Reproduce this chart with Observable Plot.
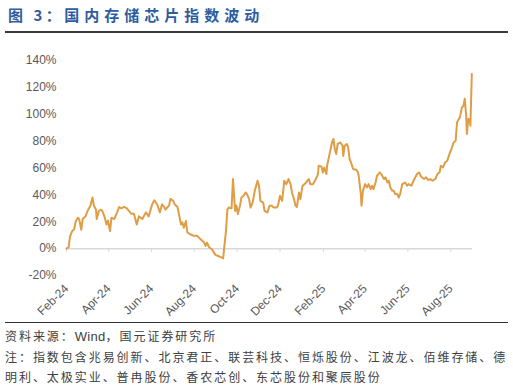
<!DOCTYPE html>
<html><head><meta charset="utf-8">
<script src="https://cdn.jsdelivr.net/npm/d3@7"></script>
<script src="https://cdn.jsdelivr.net/npm/@observablehq/plot@0.6"></script>
<style>
body{margin:0;background:#fff;width:513px;height:387px;overflow:hidden;font-family:"Liberation Sans",Arial,"Noto Sans CJK SC",sans-serif;}
#title{margin-left:5px;width:503px;height:31px;line-height:30px;border-bottom:2px solid #3a3a3a;color:#2E5C9F;font-weight:bold;font-family:"Noto Sans CJK SC",sans-serif;font-size:15px;white-space:pre;}
#chart svg{display:block}
#note{margin-left:5px;width:503px;border-top:1px solid #333;padding-top:3px;font-family:"Noto Sans CJK SC",sans-serif;font-size:12px;line-height:20px;color:#404040;letter-spacing:1.95px;white-space:nowrap;}
#note .en{font-family:"Liberation Sans",Arial,sans-serif;letter-spacing:0.3px;font-size:13px;}
</style></head><body>
<div id="title"><span style="padding-left:3px;letter-spacing:3.5px">图 3：</span><span style="letter-spacing:5px">国内存储芯片指数波动</span></div>
<div id="chart"></div>
<div id="note">资料来源：<span class="en">Wind</span>，国元证券研究所<br>注：指数包含兆易创新、北京君正、联芸科技、恒烁股份、江波龙、佰维存储、德<br>明利、太极实业、普冉股份、香农芯创、东芯股份和聚辰股份</div>
<script>
const dates = ["2024-02-01","2024-02-04","2024-02-06","2024-02-09","2024-02-12","2024-02-14","2024-02-17","2024-02-19","2024-02-22","2024-02-24","2024-02-28","2024-03-02","2024-03-06","2024-03-09","2024-03-11","2024-03-14","2024-03-15","2024-03-18","2024-03-21","2024-03-23","2024-03-26","2024-03-29","2024-03-31","2024-04-03","2024-04-05","2024-04-09","2024-04-13","2024-04-16","2024-04-19","2024-04-23","2024-04-27","2024-04-30","2024-05-03","2024-05-07","2024-05-11","2024-05-14","2024-05-19","2024-05-24","2024-05-28","2024-06-02","2024-06-05","2024-06-09","2024-06-13","2024-06-16","2024-06-19","2024-06-21","2024-06-24","2024-06-26","2024-06-28","2024-07-02","2024-07-04","2024-07-08","2024-07-10","2024-07-13","2024-07-15","2024-07-17","2024-07-20","2024-07-22","2024-07-27","2024-07-31","2024-08-05","2024-08-10","2024-08-15","2024-08-17","2024-08-19","2024-08-22","2024-08-26","2024-08-29","2024-08-31","2024-09-04","2024-09-07","2024-09-11","2024-09-12","2024-09-15","2024-09-17","2024-09-19","2024-09-23","2024-09-25","2024-09-28","2024-09-30","2024-10-02","2024-10-05","2024-10-07","2024-10-10","2024-10-13","2024-10-15","2024-10-18","2024-10-20","2024-10-23","2024-10-26","2024-10-30","2024-11-01","2024-11-03","2024-11-07","2024-11-09","2024-11-13","2024-11-16","2024-11-19","2024-11-22","2024-11-26","2024-11-28","2024-12-01","2024-12-04","2024-12-07","2024-12-10","2024-12-13","2024-12-16","2024-12-18","2024-12-21","2024-12-23","2024-12-25","2024-12-28","2024-12-30","2025-01-02","2025-01-05","2025-01-09","2025-01-11","2025-01-13","2025-01-17","2025-01-21","2025-01-24","2025-01-25","2025-01-29","2025-01-31","2025-02-02","2025-02-05","2025-02-06","2025-02-10","2025-02-13","2025-02-15","2025-02-17","2025-02-19","2025-02-21","2025-02-25","2025-02-28","2025-03-01","2025-03-03","2025-03-06","2025-03-08","2025-03-10","2025-03-12","2025-03-15","2025-03-20","2025-03-22","2025-03-23","2025-03-26","2025-03-27","2025-03-29","2025-04-01","2025-04-04","2025-04-06","2025-04-09","2025-04-11","2025-04-13","2025-04-16","2025-04-18","2025-04-22","2025-04-24","2025-04-28","2025-04-30","2025-05-03","2025-05-05","2025-05-07","2025-05-10","2025-05-12","2025-05-14","2025-05-17","2025-05-19","2025-05-21","2025-05-24","2025-05-28","2025-05-31","2025-06-02","2025-06-06","2025-06-09","2025-06-14","2025-06-17","2025-06-20","2025-06-24","2025-06-27","2025-06-30","2025-07-03","2025-07-06","2025-07-10","2025-07-13","2025-07-16","2025-07-18","2025-07-21","2025-07-24","2025-07-27","2025-07-31","2025-08-02","2025-08-05","2025-08-08","2025-08-10","2025-08-14","2025-08-17","2025-08-19","2025-08-21","2025-08-23","2025-08-24","2025-08-26","2025-08-28","2025-08-29","2025-08-31"];
const values = [0,1,9,13,14.5,20,23,22,14,22,24,28,32,38,32,29,22,28,29,28,24,18,21,13,23,22,27,31,30,31,30,28,26,26,18,24,22,27,24,33,36,33,27,33,31,29,31,32,37,35.5,33,31,26,18,19.5,15.5,20.5,12,10.5,9.5,9.5,7,4.5,2,4.5,1,-0.5,-3,-4.7,-5.5,-6.2,-7.2,-2,13,29,30.6,30,51.8,28,32,25.7,32,38,39.3,41.8,40.6,36.8,30.6,34.3,43,50.5,46.8,35.6,34.3,28,26.9,31.9,31.9,30.6,30.6,31.9,39.3,35.6,50.5,48,51.8,48,41.8,36.8,32,31,41.8,36.8,46.8,48,50.5,51.8,48,48,51.8,55.5,61.7,61,56.7,60.4,55.5,61.7,71.6,79,81.6,74,70.4,77.9,79,76.6,69,76.6,77.9,75.3,66.7,64.2,59.2,58.5,56.7,54,40.6,32,43,48,45.5,48,44.3,46.8,44.3,49.2,54.2,56.7,55.5,51.8,53,49.2,50.5,45.5,43,43,40.6,40.6,38,40.6,48,49.2,46.8,48,46.8,50.5,55.5,56.7,53.5,51.8,53,51,51.8,50.5,51.8,55.5,56.7,61.7,60.4,64.2,65.4,71.6,74.1,79,80.3,94,97.7,105.2,106,111.5,99,85.3,96.5,95.8,91.5,130];
const tickDates = ["2024-02-01","2024-04-01","2024-06-01","2024-08-01","2024-10-01","2024-12-01","2025-02-01","2025-04-01","2025-06-01","2025-08-01"];
const yTicks = [-20,0,20,40,60,80,100,120,140];

const data = dates.map((d, i) => ({date: new Date(d), value: values[i]}));
const xt = tickDates.map(d => new Date(d));

const chart = Plot.plot({
  width: 513, height: 289,
  marginLeft: 66, marginRight: 41, marginTop: 27, marginBottom: 47,
  style: {fontFamily: '"Liberation Sans", Arial, sans-serif', fontSize: "12px", color: "#595959", background: "transparent"},
  x: {type: "utc", domain: [new Date("2024-02-01"), new Date("2025-09-01")]},
  y: {domain: [-20, 140]},
  marks: [
    Plot.axisY(yTicks, {tickSize: 0, tickPadding: 10, tickFormat: d => d + "%", label: null, fill: "#595959"}),
    Plot.axisX(xt, {tickSize: 0, tickRotate: -45, tickPadding: 11, tickFormat: d3.utcFormat("%b-%y"), label: null, fill: "#595959"}),
    Plot.ruleY([0], {stroke: "#d9d9d9", strokeWidth: 1.5}),
    Plot.ruleX(xt, {y1: 0, y2: 0, insetBottom: -4, stroke: "#d9d9d9", strokeWidth: 1}),
    Plot.line(data, {x: "date", y: "value", stroke: "#DF9D45", strokeWidth: 2, strokeLinejoin: "round"})
  ]
});
document.getElementById("chart").appendChild(chart);
</script>
</body></html>
